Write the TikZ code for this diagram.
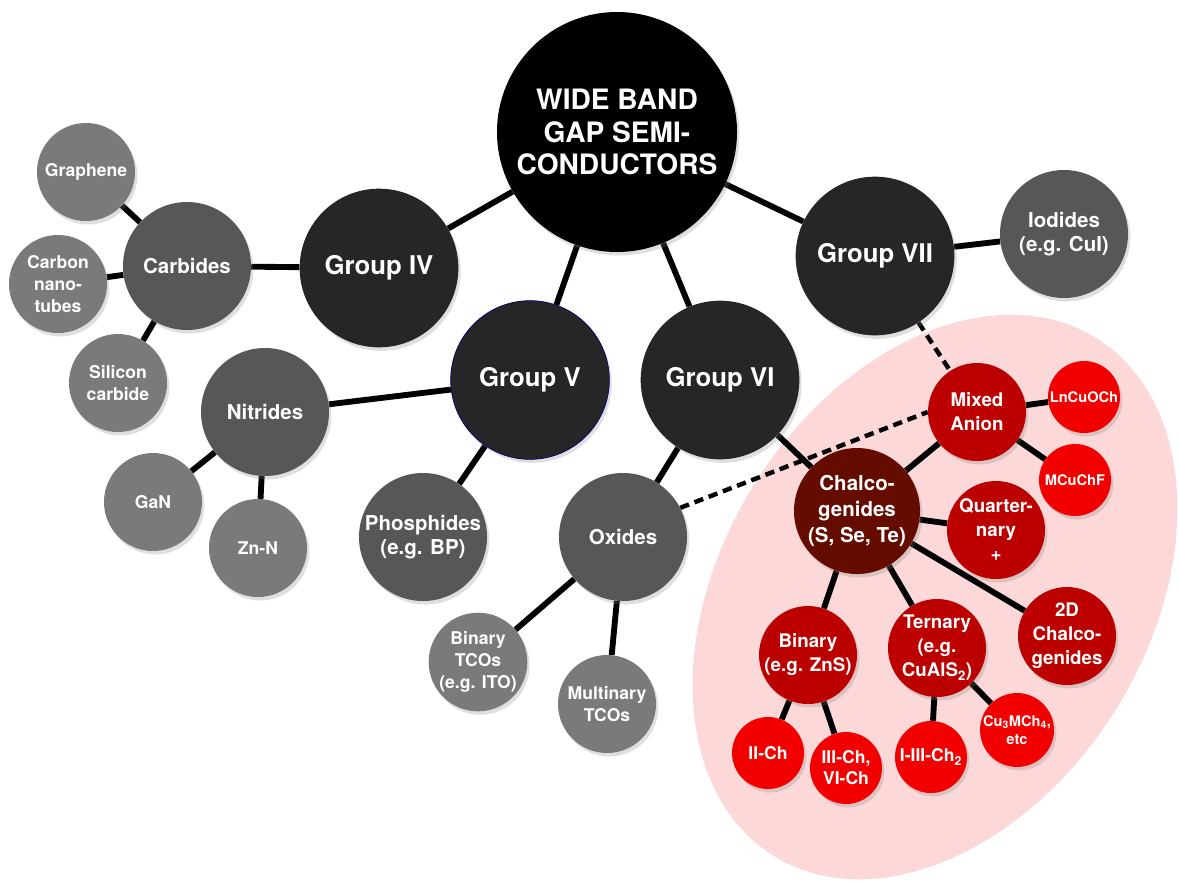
\documentclass[tikz,border=0pt]{standalone}
\usepackage{fontspec}
\setsansfont{TeX Gyre Heros}
\usetikzlibrary{shapes.geometric,shadows,backgrounds}

\definecolor{grpgray}{HTML}{262626}
\definecolor{midgray}{HTML}{575757}
\definecolor{leafgray}{HTML}{7A7A7A}
\definecolor{chalred}{HTML}{650C00}
\definecolor{midred}{HTML}{BC0000}
\definecolor{leafred}{HTML}{F20000}
\definecolor{zonepink}{HTML}{FCD8D8}

\begin{document}
\begin{tikzpicture}[
    bub/.style={circle, inner sep=0pt, align=center, text=white, drop shadow={shadow xshift=2pt, shadow yshift=-3pt, opacity=0.25}},
    hub/.style={bub, fill=black, minimum size=7.2cm, font=\sffamily\bfseries\fontsize{24}{28}\selectfont},
    grp/.style={bub, fill=grpgray, minimum size=4.76cm, font=\sffamily\bfseries\fontsize{22}{26}\selectfont},
    mid/.style={bub, fill=midgray, minimum size=3.84cm, font=\sffamily\bfseries\fontsize{17.5}{21}\selectfont},
    leaf/.style={bub, fill=leafgray, minimum size=2.94cm, font=\sffamily\bfseries\fontsize{15}{19}\selectfont},
    chal/.style={bub, fill=chalred, minimum size=3.78cm, font=\sffamily\bfseries\fontsize{17.5}{22}\selectfont},
    redmid/.style={bub, fill=midred, minimum size=2.94cm, font=\sffamily\bfseries\fontsize{16}{20.5}\selectfont},
    redleaf/.style={bub, fill=leafred, minimum size=2.16cm, font=\sffamily\bfseries\fontsize{15}{18}\selectfont},
    redsmall/.style={redleaf, font=\sffamily\bfseries\fontsize{12.5}{16}\selectfont},
    zone/.style={ellipse, fill=zonepink, minimum width=18.3cm, minimum height=12.78cm, rotate=58},
    link/.style={line width=5pt},
    dlink/.style={line width=3.8pt, dash pattern=on 8pt off 5pt}
]
\useasboundingbox (0,0) rectangle (35.37,-26.43);

\node[hub] (wbg) at (18.51,-3.96) {WIDE BAND\\GAP SEMI-\\CONDUCTORS};
\node[grp] (g4) at (11.37,-8.04) {Group IV};
\node[grp, draw=blue!45!black, line width=0.6pt] (g5) at (15.90,-11.40) {Group V};
\node[grp] (g6) at (21.60,-11.40) {Group VI};
\node[grp] (g7) at (26.25,-7.68) {Group VII};
\node[mid] (iod) at (31.92,-7.02) {Iodides\\(e.g. CuI)};

% group IV side
\node[mid] (carb) at (5.61,-7.98) {Carbides};
\node[leaf] (graph) at (2.58,-5.16) {Graphene};
\node[leaf] (cnt) at (1.74,-8.52) {Carbon\\nano-\\tubes};
\node[leaf] (sic) at (3.54,-11.49) {Silicon\\carbide};

% group V side
\node[mid] (nitr) at (7.95,-12.36) {Nitrides};
\node[leaf] (gan) at (4.59,-15.06) {GaN};
\node[leaf] (znn) at (7.74,-16.44) {Zn-N};
\node[mid] (phos) at (12.69,-16.11) {Phosphides\\(e.g. BP)};

% group VI side
\node[mid] (oxd) at (18.69,-16.11) {Oxides};
\node[leaf] (btco) at (14.34,-19.86) {Binary\\TCOs\\(e.g. ITO)};
\node[leaf] (mtco) at (18.21,-21.12) {Multinary\\TCOs};

% chalcogenide family
\node[chal] (chal) at (25.71,-15.33) {Chalco-\\genides\\(S, Se, Te)};
\node[redmid] (mix) at (29.31,-12.36) {Mixed\\Anion};
\node[redsmall] (lncu) at (32.52,-11.91) {LnCuOCh};
\node[redsmall] (mcuf) at (32.25,-14.40) {MCuChF};
\node[redmid] (quat) at (29.88,-15.90) {Quarter-\\nary\\+};
\node[redmid] (twod) at (32.01,-19.08) {2D\\Chalco-\\genides};
\node[redmid] (bin) at (24.24,-19.65) {Binary\\(e.g. ZnS)};
\node[redmid] (tern) at (28.11,-19.44) {Ternary\\(e.g.\\CuAlS\textsubscript{2})};
\node[redleaf] (iich) at (23.04,-22.59) {II-Ch};
\node[redleaf] (iiich) at (25.38,-23.04) {III-Ch,\\VI-Ch};
\node[redleaf] (ich) at (27.93,-22.71) {I-III-Ch\textsubscript{2}};
\node[redsmall] (cumch) at (30.51,-21.90) {Cu\textsubscript{3}MCh\textsubscript{4},\\etc};

\begin{pgfonlayer}{background}
\node[zone] (area) at (28.05,-17.91) {};
\draw[link] (wbg) -- (g4);
\draw[link] (wbg) -- (g5);
\draw[link] (wbg) -- (g6);
\draw[link] (wbg) -- (g7);
\draw[link] (g7) -- (iod);
\draw[link] (g4) -- (carb);
\draw[link] (carb) -- (graph);
\draw[link] (carb) -- (cnt);
\draw[link] (carb) -- (sic);
\draw[link] (g5) -- (nitr);
\draw[link] (g5) -- (phos);
\draw[link] (nitr) -- (gan);
\draw[link] (nitr) -- (znn);
\draw[link] (g6) -- (oxd);
\draw[link] (g6) -- (chal);
\draw[link] (oxd) -- (btco);
\draw[link] (oxd) -- (mtco);
\draw[dlink] (oxd.27) -- (mix.180);
\draw[dlink] (g7) -- (mix);
\draw[link] (chal) -- (mix);
\draw[link] (mix) -- (lncu);
\draw[link] (mix) -- (mcuf);
\draw[link] (chal) -- (quat);
\draw[link] (chal) -- (twod);
\draw[link] (chal) -- (bin);
\draw[link] (chal) -- (tern);
\draw[link] (bin) -- (iich);
\draw[link] (bin) -- (iiich);
\draw[link] (tern) -- (ich);
\draw[link] (tern) -- (cumch);
\end{pgfonlayer}
\end{tikzpicture}
\end{document}
